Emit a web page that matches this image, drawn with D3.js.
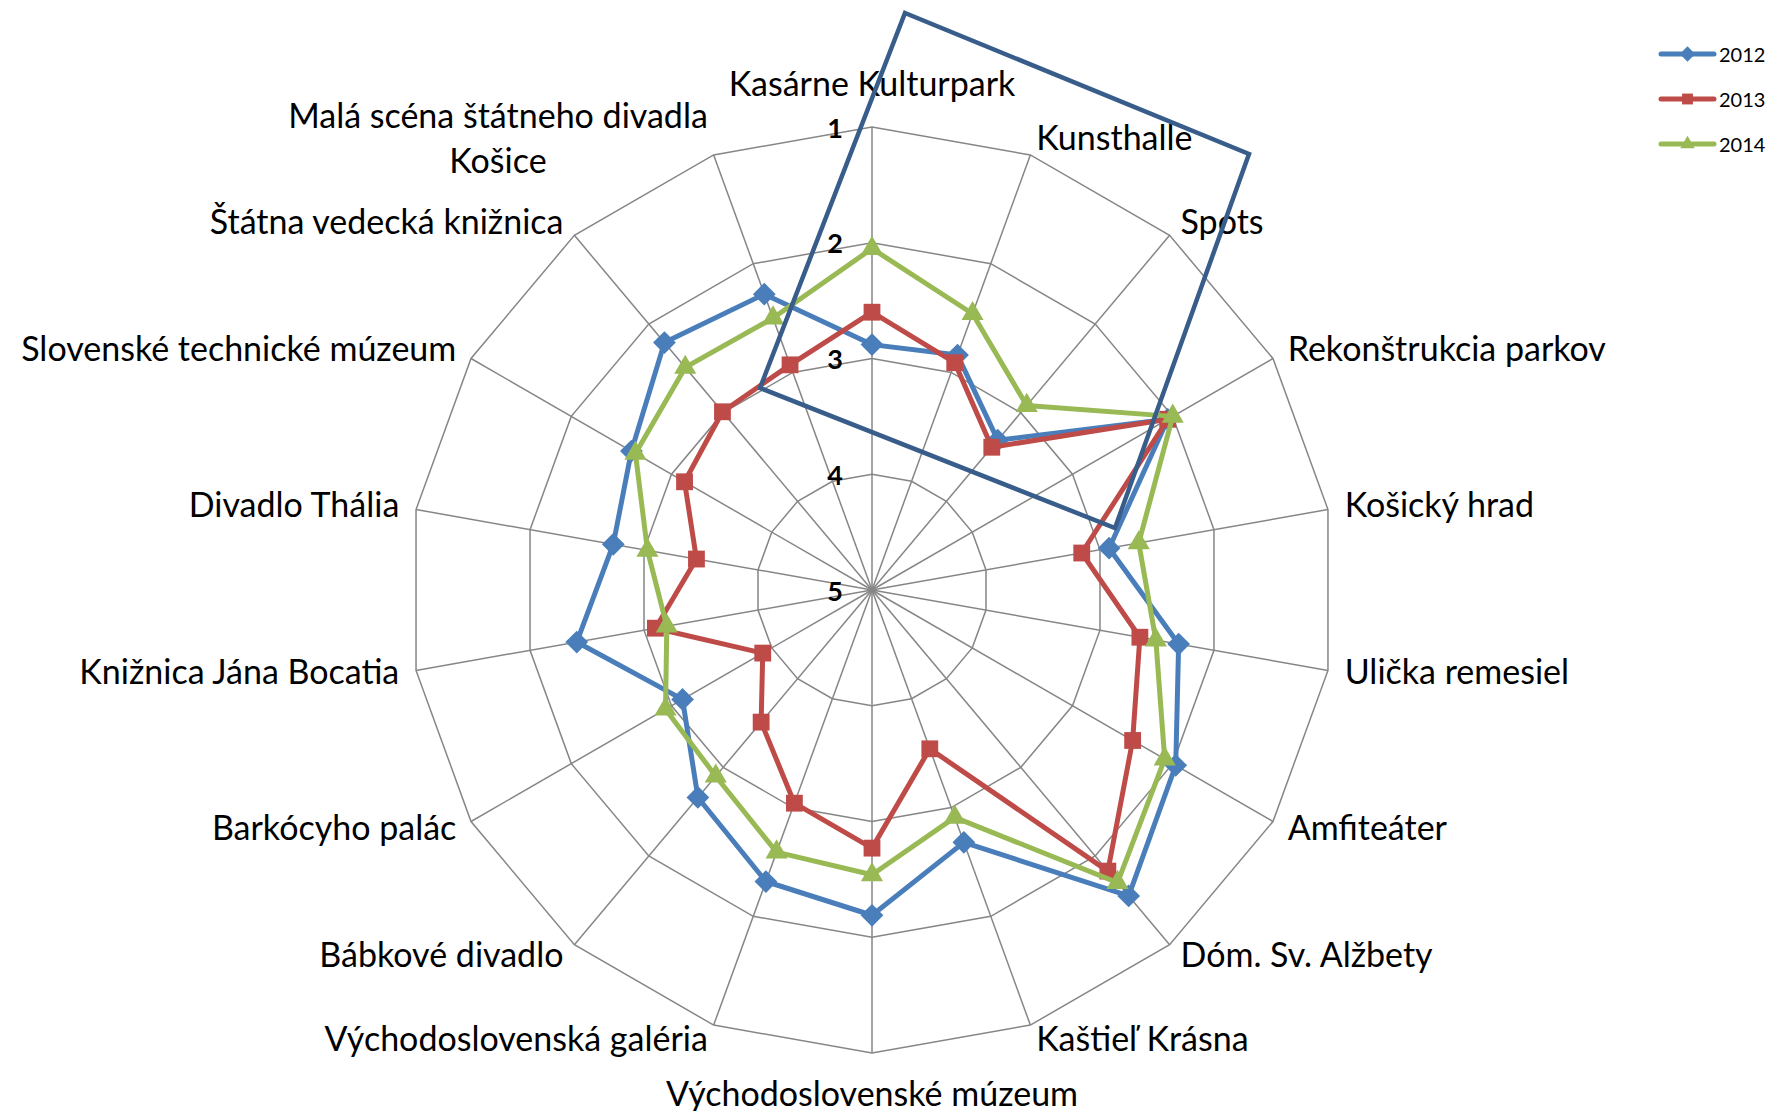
<!DOCTYPE html>
<html>
<head>
<meta charset="utf-8">
<script src="https://cdn.jsdelivr.net/npm/d3@7"></script>
<style>
  body { margin: 0; background: #fff; }
  svg { display: block; font-family: "Lato", "Open Sans", sans-serif; }
</style>
</head>
<body>
<svg id="chart" width="1771" height="1111"></svg>
<script>
// -- Data --
const categories = [
    "Kasárne Kulturpark", "Kunsthalle", "Spots", "Rekonštrukcia parkov",
    "Košický hrad", "Ulička remesiel", "Amfiteáter", "Dóm. Sv. Alžbety",
    "Kaštieľ Krásna", "Východoslovenské múzeum", "Východoslovenská galéria",
    "Bábkové divadlo", "Barkócyho palác", "Knižnica Jána Bocatia",
    "Divadlo Thália", "Slovenské technické múzeum", "Štátna vedecká knižnica",
    "Malá scéna štátneho divadla\nKošice"
];
const values2012 = [2.88, 2.84, 3.31, 2.05, 2.92, 2.31, 1.97, 1.55, 2.68, 2.19, 2.32, 2.66, 3.11, 2.41, 2.73, 2.60, 2.21, 2.28];
const values2013 = [2.60, 2.91, 3.39, 2.05, 3.16, 2.65, 2.40, 1.83, 3.54, 2.77, 3.04, 3.51, 3.91, 3.10, 3.46, 3.13, 2.99, 2.93];
const values2014 = [2.05, 2.46, 2.92, 2.00, 2.66, 2.51, 2.08, 1.70, 2.91, 2.54, 2.59, 2.90, 2.94, 3.20, 3.03, 2.64, 2.49, 2.50];
const seriesNames = ["2012", "2013", "2014"];
const tickValues = [1, 2, 3, 4, 5];

// highlight box drawn over the chart (offsets from the centre, px)
const highlightBox = [[33, -577], [377, -436], [243, -62], [-112, -202]];

const series = [
    { name: seriesNames[0], values: values2012, color: "#4a7ebb", marker: "diamond" },
    { name: seriesNames[1], values: values2013, color: "#be4b48", marker: "square" },
    { name: seriesNames[2], values: values2014, color: "#98b954", marker: "triangle" }
];

// -- Layout --
const svg = d3.select("#chart");
const cx = 872, cy = 590, R = 463;
const n = categories.length;

const r = d3.scaleLinear().domain([5, 1]).range([0, R]);
const angle = d3.scaleLinear().domain([0, n]).range([0, 2 * Math.PI]);

function pt(i, v){
    const a = angle(i);
    return [cx + r(v) * Math.sin(a), cy - r(v) * Math.cos(a)];
}

const symbolType = {
    diamond: d3.symbolDiamond2,
    square: d3.symbolSquare2,
    triangle: d3.symbolTriangle2
};

// -- Grid rings and spokes --
const grid = svg.append("g");
tickValues.filter(t => t < 5).forEach(t => {
    grid.append("polygon")
        .attr("points", d3.range(n).map(i => pt(i, t).join(",")).join(" "))
        .attr("fill", "none")
        .attr("stroke", "#868686")
        .attr("stroke-width", 1.5);
});
d3.range(n).forEach(i => {
    const [x, y] = pt(i, 1);
    grid.append("line")
        .attr("x1", cx).attr("y1", cy)
        .attr("x2", x).attr("y2", y)
        .attr("stroke", "#868686")
        .attr("stroke-width", 1.5);
});

// -- Category labels --
const labels = svg.append("g").attr("font-size", 34).attr("fill", "#000");
categories.forEach((c, i) => {
    const a = angle(i);
    const s = Math.sin(a), co = Math.cos(a);
    const [vx, vy] = pt(i, 1);
    let x = vx + 17 * s;
    let y;
    if (Math.abs(s) < 0.01) y = vy - co * 42 - 3;
    else y = vy - 16 * co - 3;
    const anchor = s > 0.01 ? "start" : (s < -0.01 ? "end" : "middle");
    const lines = c.split("\n");
    if (lines.length === 1){
        labels.append("text")
            .attr("x", x).attr("y", y)
            .attr("text-anchor", anchor)
            .attr("dominant-baseline", "central")
            .text(c);
    } else {
        // multi-line: centre lines under the longest, right edge at anchor
        const t = labels.append("text")
            .attr("text-anchor", "middle")
            .attr("dominant-baseline", "central");
        const tmp = labels.append("text").text(lines[0]);
        const w = tmp.node().getComputedTextLength();
        tmp.remove();
        const mx = anchor === "end" ? x - w / 2 : (anchor === "start" ? x + w / 2 : x);
        lines.forEach((l, k) => {
            t.append("tspan")
                .attr("x", mx)
                .attr("y", y + (k - (lines.length - 1) / 2) * 45)
                .text(l);
        });
    }
});

// -- Series --
const line = d3.line().curve(d3.curveLinearClosed);
const markerSize = { diamond: 330, square: 360, triangle: 350 };

series.forEach(s => {
    const pts = s.values.map((v, i) => pt(i, v));
    const g = svg.append("g");
    g.append("path")
        .attr("d", line(pts))
        .attr("fill", "none")
        .attr("stroke", s.color)
        .attr("stroke-width", 5)
        .attr("stroke-linejoin", "round");
    g.selectAll("path.m").data(pts).join("path")
        .attr("class", "m")
        .attr("transform", d => `translate(${d[0]},${d[1]})`)
        .attr("d", d3.symbol().type(symbolType[s.marker]).size(markerSize[s.marker])())
        .attr("fill", s.color);
});

// -- Tick labels --
svg.append("g").selectAll("text").data(tickValues).join("text")
    .attr("x", cx - 29)
    .attr("y", d => cy - r(d))
    .attr("text-anchor", "end")
    .attr("dominant-baseline", "central")
    .attr("font-size", 27)
    .attr("font-weight", "bold")
    .attr("fill", "#000")
    .text(d => d);

// -- Highlight box --
svg.append("polygon")
    .attr("points", highlightBox.map(p => [cx + p[0], cy + p[1]].join(",")).join(" "))
    .attr("fill", "none")
    .attr("stroke", "#385d8a")
    .attr("stroke-width", 4.5)
    .attr("stroke-linejoin", "miter");

// -- Legend --
const legend = svg.append("g");
series.forEach((s, k) => {
    const y = 54 + k * 45;
    const g = legend.append("g");
    g.append("line")
        .attr("x1", 1661).attr("x2", 1714)
        .attr("y1", y).attr("y2", y)
        .attr("stroke", s.color)
        .attr("stroke-width", 5)
        .attr("stroke-linecap", "round");
    g.append("path")
        .attr("transform", `translate(1687.5,${y})`)
        .attr("d", d3.symbol().type(symbolType[s.marker]).size(150)())
        .attr("fill", s.color);
    g.append("text")
        .attr("x", 1719).attr("y", y)
        .attr("dominant-baseline", "central")
        .attr("font-size", 20)
        .attr("fill", "#000")
        .text(s.name);
});
</script>
</body>
</html>
